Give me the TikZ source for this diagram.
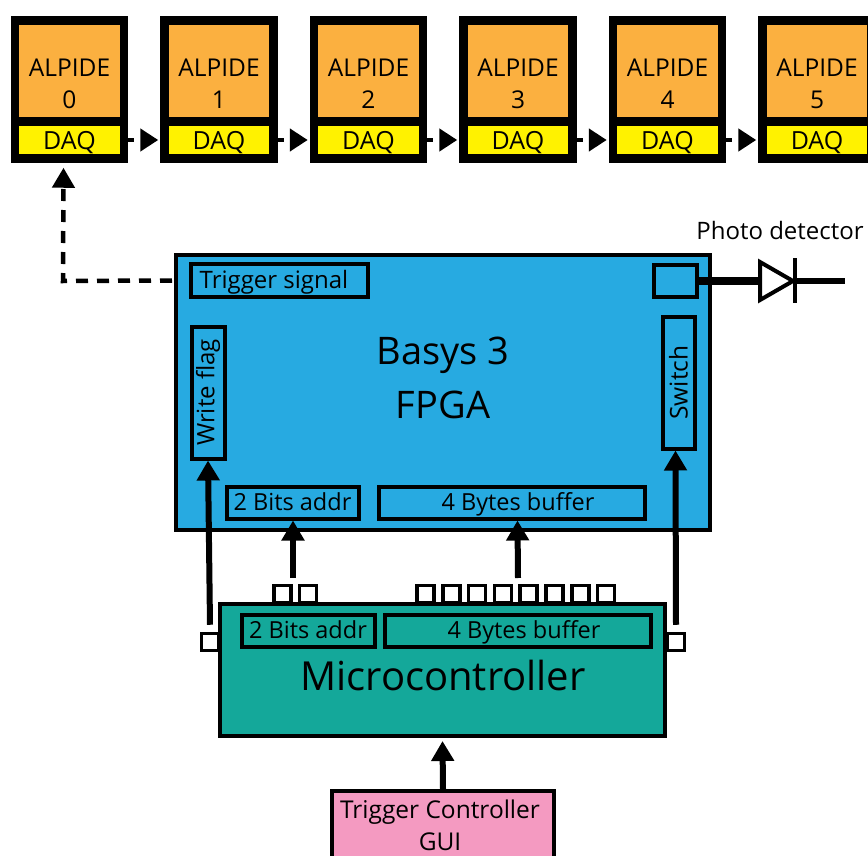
\documentclass[tikz,border=0pt]{standalone}
\usepackage{fontspec}
\setmainfont{Open Sans}
\usetikzlibrary{arrows.meta}
\definecolor{chiporange}{HTML}{FBB040}
\definecolor{daqyellow}{HTML}{FFF200}
\definecolor{fpgablue}{HTML}{27AAE1}
\definecolor{mcuteal}{HTML}{14A89A}
\definecolor{guipink}{HTML}{F49AC1}
\tikzset{
    box/.style={draw,line width=4pt,inner sep=0pt,align=center},
    chip/.style={draw,line width=8.5pt,inner sep=0pt,minimum width=109pt},
    pin/.style={draw,line width=3.5pt,fill=white,inner sep=0pt,minimum size=17pt},
    txt/.style={font=\fontsize{24.5}{32}\selectfont,align=center,inner sep=0pt},
    lbl/.style={font=\fontsize{23.5}{27}\selectfont,inner sep=0pt,text height=21pt,text depth=5pt},
    sig/.style={line width=6pt,-{Triangle[length=20pt,width=22pt]}},
    trig/.style={line width=4.5pt,dash pattern=on 12pt off 9pt,-{Triangle[length=20pt,width=22pt]}},
    hop/.style={line width=4.5pt,dash pattern=on 6pt off 8pt,-{Triangle[length=18pt,width=22pt]}},
}
\begin{document}
\begin{tikzpicture}[x=1pt,y=-1pt]
    \clip (0,0) rectangle (868,856);
    % readout chain
    \foreach \i in {0,...,5} {
        \node[chip,fill=chiporange,minimum height=101pt] (chip\i) at (69.5+149.5*\i,71) {};
        \node[chip,fill=daqyellow,minimum height=37pt] (daq\i) at (69.5+149.5*\i,140) {};
        \node[txt] (name\i) at (69.5+149.5*\i,84) {ALPIDE\\\i};
        \node[lbl,font=\fontsize{25}{29}\selectfont] (daqtxt\i) at (69.5+149.5*\i,142) {DAQ};
    }
    \foreach \i [evaluate=\i as \j using int(\i+1)] in {0,...,4} {
        \draw[hop] (daq\i.east) -- ([xshift=-2pt]daq\j.west);
    }
    % fpga
    \node[box,fill=fpgablue,minimum width=534pt,minimum height=275pt] (fpga) at (443,392.5) {};
    \node[txt,font=\fontsize{38}{54}\selectfont] (fpgatxt) at (443,378) {Basys 3\\FPGA};
    \node[box,minimum width=177pt,minimum height=33pt,lbl,font=\fontsize{24}{28}\selectfont] (trigsig) at (279,280.5) {\hspace{-10pt}Trigger signal};
    \node[box,minimum width=43pt,minimum height=32pt] (pd) at (675.5,281) {};
    \node[box,minimum width=33pt,minimum height=132pt] (wflag) at (208,392.5) {\rotatebox{90}{\fontsize{24}{28}\selectfont Write flag}};
    \node[box,minimum width=32pt,minimum height=132pt] (switch) at (678.5,382.5) {\rotatebox{90}{\fontsize{24.5}{28}\selectfont Switch}};
    \node[box,minimum width=132pt,minimum height=32pt,lbl] (faddr) at (292.5,502.5) {2 Bits addr};
    \node[box,minimum width=266pt,minimum height=32pt,lbl] (fbuf) at (511.5,502.5) {\hspace{13pt}4 Bytes buffer};
    % microcontroller
    \foreach \x in {282.5,308} {
        \node[pin] at (\x,594) {};
    }
    \foreach \i in {0,...,7} {
        \node[pin] at (425.5+25.8*\i,594) {};
    }
    \node[pin] (pinl) at (210,642) {};
    \node[pin] (pinr) at (676,642) {};
    \node[box,fill=mcuteal,minimum width=445pt,minimum height=132pt] (mcu) at (442.5,670) {};
    \node[txt,font=\fontsize{40}{48}\selectfont] (mcutxt) at (443,675) {Microcontroller};
    \node[box,minimum width=133pt,minimum height=32pt,lbl] (maddr) at (308,630.5) {2 Bits addr};
    \node[box,minimum width=266pt,minimum height=32pt,lbl] (mbuf) at (517.5,630.5) {\hspace{13pt}4 Bytes buffer};
    \coordinate (baddr) at (293,578);
    \coordinate (bbuf) at (518,578);
    % gui
    \node[box,fill=guipink,minimum width=222pt,minimum height=68pt] (gui) at (443,825) {};
    \node[txt] (guitxt) at (440,825) {Trigger Controller\\GUI};
    % signals
    \draw[sig] (gui.north) -- ([yshift=-3pt]mcu.south);
    \draw[sig] ([yshift=7pt]pinl.north) -- (wflag.south);
    \draw[sig] ([yshift=7pt]pinr.north) -- ([xshift=-3pt]switch.south);
    \draw[sig] (baddr) -- ([xshift=0.5pt]faddr.south);
    \draw[sig] (bbuf) -- ([xshift=6pt]fbuf.south);
    \draw[trig] ([xshift=-2pt]fpga.west |- trigsig) -- (63,281) -- ([xshift=-6pt,yshift=-5pt]daq0.south);
    % photo detector
    \coordinate (lineend) at (845,281);
    \node[lbl,font=\fontsize{24}{28}\selectfont] (pdtxt) at (780,232) {Photo detector};
    \coordinate (da) at (760,262);
    \coordinate (db) at (760,300);
    \coordinate (dc) at (793,281);
    \draw[line width=8pt] (pd.east) -- (da |- pd.east);
    \draw[line width=4pt,fill=white] (da) -- (dc) -- (db) -- cycle;
    \draw[line width=4pt] (795,258) -- (795,303);
    \draw[line width=6pt] (dc) -- (lineend);
\end{tikzpicture}
\end{document}
